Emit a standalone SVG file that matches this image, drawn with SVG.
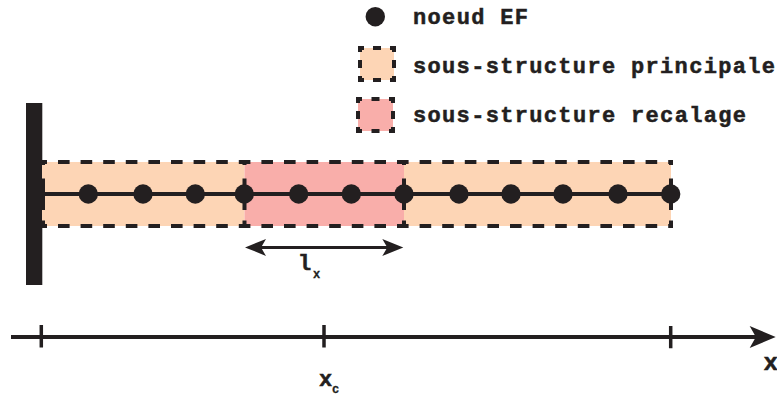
<svg xmlns="http://www.w3.org/2000/svg" width="777" height="401" viewBox="0 0 777 401">
<style>
.t{font-family:"Liberation Mono","Courier New",monospace;font-weight:700;font-size:22px;fill:#231f20;stroke:#231f20;stroke-width:.5}
.s{font-size:12px;stroke-width:.3}
.n{fill:#231f20}
.l{stroke:#231f20;stroke-width:4;fill:none}
.th{stroke:#231f20;stroke-width:3;fill:none}
.d{stroke:#231f20;stroke-width:4;stroke-dasharray:11.6 11;fill:none}
.v{stroke:#231f20;stroke-width:4;stroke-dasharray:3 13.5 31.5 10.5 5;fill:none}
.tick{stroke:#231f20;stroke-width:3.5;fill:none}
.lb{fill:none;stroke:#231f20;stroke-width:4}
</style>
<defs>
<path id="ah" d="M0 0L-21 -8.500L-16 0L-21 8.500Z" fill="#231f20"/>
<circle id="dot" r="9.700" fill="#231f20"/>
</defs>
<g id="legend-node">
<circle cx="375.300" cy="16.700" r="9.700" class="n"/>
<text class="t" x="413" y="24" textLength="115" lengthAdjust="spacing">noeud EF</text>
</g>
<g id="legend-principale">
<rect x="360" y="48" width="34" height="32" fill="#fdd5b5"/>
<rect x="360" y="48" width="34" height="32" class="lb" stroke-dasharray="4 9 8 9 8 8 8 8 8 9 8 9 8 8 8 8 4"/>
<text class="t" x="413" y="73" textLength="362" lengthAdjust="spacing">sous-structure principale</text>
</g>
<g id="legend-recalage">
<rect x="358" y="99" width="35" height="32" fill="#f9aeaa"/>
<rect x="358" y="99" width="35" height="32" class="lb" stroke-dasharray="4 9.500 8 9.500 8 8 8 8 8 9.500 8 9.500 8 8 8 8 4"/>
<text class="t" x="413" y="122" textLength="333" lengthAdjust="spacing">sous-structure recalage</text>
</g>
<g id="wall"><rect x="26" y="103" width="16.300" height="182" class="n"/></g>
<g id="sous-structure-principale-1">
<rect x="42" y="162" width="202.500" height="64" fill="#fdd5b5"/>
</g>
<g id="sous-structure-recalage">
<rect x="244.500" y="162" width="159.500" height="64" fill="#f9aeaa"/>
</g>
<g id="sous-structure-principale-2">
<rect x="404" y="162" width="267" height="64" fill="#fdd5b5"/>
</g>
<g id="connectors">
<path d="M42 162H673M42 226H673" class="d" stroke-dashoffset="6.600"/>
<path d="M43 162V226M244.500 162V226M404 162V226M671 162V226" class="v"/>
<path d="M42 194H671" class="l"/>
<path d="M258 247.400H390" class="th"/>
<use href="#ah" transform="translate(245 247.400) rotate(180)"/>
<use href="#ah" transform="translate(403.300 247.400)"/>
<path d="M11 337H760" class="l"/>
<use href="#ah" transform="translate(775.700 337) scale(1.240 1.300)"/>
<path d="M41.300 325V347.500M324 325V347.500M670.700 326V348.300" class="tick"/>
</g>
<g id="nodes">
<use href="#dot" x="88.300" y="194"/>
<use href="#dot" x="143" y="194"/>
<use href="#dot" x="195.300" y="194"/>
<use href="#dot" x="244.300" y="194"/>
<use href="#dot" x="298.700" y="194"/>
<use href="#dot" x="351.300" y="194"/>
<use href="#dot" x="404" y="194"/>
<use href="#dot" x="459" y="194"/>
<use href="#dot" x="511" y="194"/>
<use href="#dot" x="563" y="194"/>
<use href="#dot" x="618" y="194"/>
<use href="#dot" x="670.700" y="194"/>
</g>
<g id="labels">
<text class="t" x="298" y="270">l</text><text class="t s" x="313" y="278">x</text>
<text class="t" x="319" y="386">x</text><text class="t s" x="332" y="393">c</text>
<text class="t" x="763.500" y="370" style="font-size:24px">x</text>
</g>
</svg>
